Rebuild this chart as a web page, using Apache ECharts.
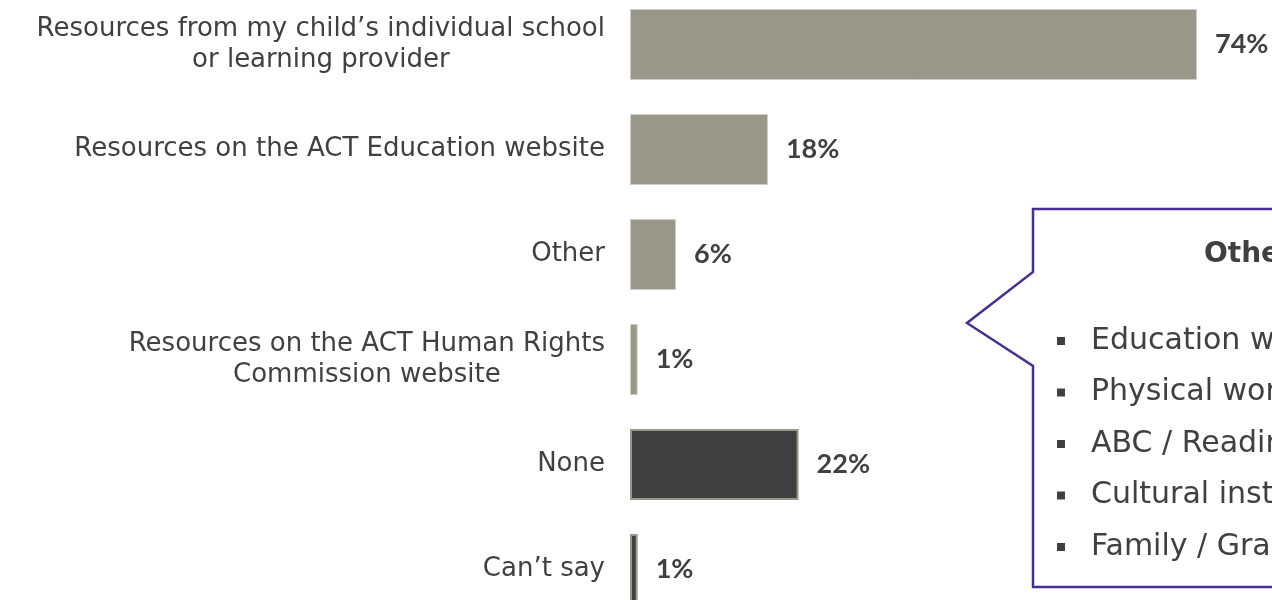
<!DOCTYPE html>
<html>
<head>
<meta charset="utf-8">
<script src="https://cdn.jsdelivr.net/npm/echarts@6/dist/echarts.min.js"></script>
<style>
  html, body { margin: 0; padding: 0; background: #ffffff; overflow: hidden; width: 1272px; height: 600px; }
  /* the plot runs past the bottom edge, so the canvas is taller than the window */
  #chart { position: absolute; left: 0; top: -8px; width: 1272px; height: 640px; }
</style>
</head>
<body>
<div id="chart"></div>
<script>
// Sources of information used (share of respondents, %)
const categories = [
  'Resources from my child\u2019s individual school\nor learning provider',
  'Resources on the ACT Education website',
  'Other',
  'Resources on the ACT Human Rights\nCommission website',
  'None',
  'Can\u2019t say'
];
const values = [74, 18, 6, 1, 22, 1];
// "None" and "Can't say" are shown in the dark style
const darkRows = [4, 5];

const otherTitle = 'Other resources';
const otherItems = [
  'Education websites',
  'Physical workbooks',
  'ABC / Reading Eggs',
  'Cultural institutions',
  'Family / Grandparents'
];

const LABEL_FONT = '"DejaVu Sans", "Open Sans", sans-serif';
const VALUE_FONT = 'Lato, "Liberation Sans", sans-serif';
const TEXT = '#404040';
const BAR_LIGHT = '#99978a';
const BAR_DARK = '#404040';
const PURPLE = '#4a2f92';
const OFFSET = 8; // canvas starts 8px above the window

const chart = echarts.init(document.getElementById('chart'), null, { renderer: 'canvas' });

const seriesData = values.map((v, i) => {
  const dark = darkRows.indexOf(i) >= 0;
  return {
    value: v,
    itemStyle: dark
      ? { color: BAR_DARK, borderColor: BAR_LIGHT, borderWidth: 2 }
      : { color: BAR_LIGHT, borderColor: '#cfcdc5', borderWidth: 1 }
  };
});

// Callout box with a pointer on its left side
const calloutShape = [
  [1033, 209], [1500, 209], [1500, 587], [1033, 587],
  [1033, 366], [967, 323], [1033, 272]
].map(p => [p[0], p[1] + OFFSET]);

const graphics = [
  {
    type: 'polygon',
    shape: { points: calloutShape },
    style: { fill: '#ffffff', stroke: PURPLE, lineWidth: 2.5 },
    z: 10
  },
  {
    type: 'text',
    x: 1204, y: 255 + OFFSET,
    style: {
      text: otherTitle,
      font: 'bold 28px ' + LABEL_FONT,
      fill: TEXT,
      textAlign: 'left',
      textVerticalAlign: 'middle'
    },
    z: 11
  }
];
otherItems.forEach((t, i) => {
  const cy = 341 + i * 51.5 + OFFSET;
  graphics.push({
    type: 'rect',
    shape: { x: 1057, y: cy - 4, width: 8, height: 8 },
    style: { fill: TEXT },
    z: 11
  });
  graphics.push({
    type: 'text',
    x: 1091, y: cy,
    style: {
      text: t,
      font: '30px ' + LABEL_FONT,
      fill: TEXT,
      textAlign: 'left',
      textVerticalAlign: 'middle'
    },
    z: 11
  });
});

chart.setOption({
  animation: false,
  backgroundColor: '#ffffff',
  grid: { left: 630, top: 0, width: 613, height: 630, containLabel: false },
  xAxis: {
    type: 'value',
    min: 0,
    max: 80,
    show: false
  },
  yAxis: {
    type: 'category',
    inverse: true,
    data: categories,
    axisLine: { show: false },
    axisTick: { show: false },
    splitLine: { show: false },
    axisLabel: {
      margin: 25,
      align: 'right',
      formatter: (val) => val.split('\n').map(s => '{c|' + s + '}').join('\n'),
      rich: {
        c: {
          align: 'center',
          fontFamily: LABEL_FONT,
          fontSize: 26,
          lineHeight: 31,
          color: TEXT
        }
      }
    }
  },
  series: [{
    type: 'bar',
    data: seriesData,
    barWidth: 71,
    label: {
      show: true,
      position: 'right',
      distance: 18,
      formatter: '{c}%',
      fontFamily: VALUE_FONT,
      fontWeight: 'bold',
      fontSize: 27,
      color: TEXT
    }
  }],
  graphic: graphics
});
</script>
</body>
</html>
